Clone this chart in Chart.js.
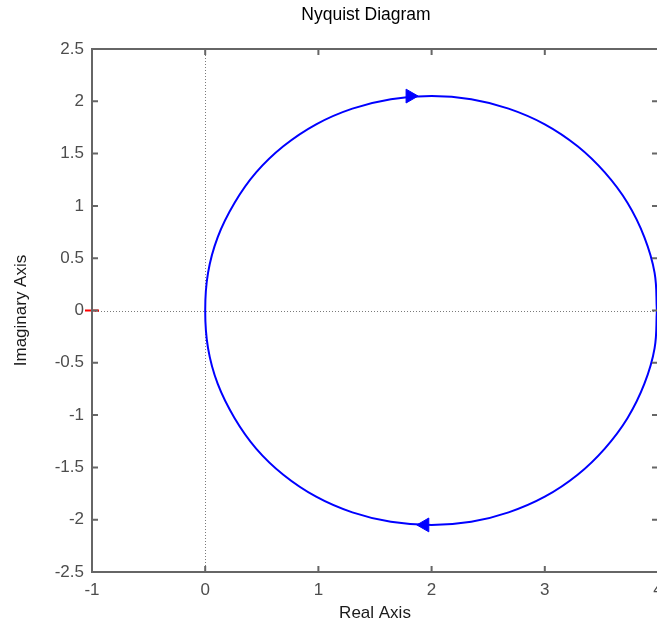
<!DOCTYPE html>
<html>
<head>
<meta charset="utf-8">
<title>Nyquist Diagram</title>
<script src="https://cdn.jsdelivr.net/npm/chart.js@4"></script>
<style>
  html, body { margin: 0; padding: 0; background: #fff; overflow: hidden; }
  #wrap { position: absolute; left: 0; top: 0; width: 732px; height: 630px; }
</style>
</head>
<body>
<div id="wrap"><canvas id="nyquist" width="732" height="630"></canvas></div>
<script>
// Nyquist curve: bottom branch right->left, then top branch left->right
const realPart = [
  3.99, 3.97, 3.88, 3.73, 3.53, 3.29, 3.00, 2.68, 2.35, 2.00,
  1.64, 1.30, 0.98, 0.69, 0.45, 0.26, 0.11, 0.025, 0.00,
  0.025, 0.11, 0.26, 0.45, 0.69, 0.98, 1.30, 1.64, 2.00,
  2.35, 2.68, 3.00, 3.29, 3.53, 3.73, 3.88, 3.97, 3.99
];
const imagPart = [
  0.00, -0.36, -0.70, -1.03, -1.32, -1.57, -1.78, -1.93, -2.02, -2.05,
  -2.02, -1.93, -1.78, -1.57, -1.32, -1.03, -0.70, -0.36, 0.00,
  0.36, 0.70, 1.03, 1.32, 1.57, 1.78, 1.93, 2.02, 2.05,
  2.02, 1.93, 1.78, 1.57, 1.32, 1.03, 0.70, 0.36, 0.00
];

// direction arrows
const arrowX = [1.81, 1.94];
const arrowY = [2.05, -2.05];
const arrowRot = [90, -90];

// critical point -1
const critX = [-1];
const critY = [0];

const xTicks = [-1, 0, 1, 2, 3, 4];
const yTicks = [-2.5, -2, -1.5, -1, -0.5, 0, 0.5, 1, 1.5, 2, 2.5];

const FONT = "'Liberation Sans', Arial, Helvetica, sans-serif";
const AXIS_GREY = '#666666';

const curve = realPart.map((x, i) => ({ x: x, y: imagPart[i] }));
const arrows = arrowX.map((x, i) => ({ x: x, y: arrowY[i] }));
const crit = critX.map((x, i) => ({ x: x, y: critY[i] }));

// dotted zero lines under the data, box + inward ticks over it
const framePlugin = {
  id: 'frame',
  beforeDatasetsDraw(chart) {
    const { ctx, chartArea: { left, right, top, bottom }, scales: { x, y } } = chart;
    const x0 = Math.round(x.getPixelForValue(0)) + 0.5;
    const y0 = Math.round(y.getPixelForValue(0)) + 0.5;
    ctx.save();
    ctx.strokeStyle = '#7a7a7a';
    ctx.lineWidth = 1;
    ctx.setLineDash([1, 2]);
    ctx.beginPath();
    ctx.moveTo(x0, top);
    ctx.lineTo(x0, bottom);
    ctx.moveTo(left, y0);
    ctx.lineTo(right, y0);
    ctx.stroke();
    ctx.restore();
  },
  afterDatasetsDraw(chart) {
    const { ctx, chartArea: { left, right, top, bottom }, scales: { x, y } } = chart;
    const tl = 6;
    ctx.save();
    ctx.strokeStyle = AXIS_GREY;
    ctx.lineWidth = 2;
    ctx.beginPath();
    xTicks.forEach(v => {
      const px = x.getPixelForValue(v);
      ctx.moveTo(px, bottom);
      ctx.lineTo(px, bottom - tl);
      ctx.moveTo(px, top);
      ctx.lineTo(px, top + tl);
    });
    yTicks.forEach(v => {
      const py = y.getPixelForValue(v);
      ctx.moveTo(left, py);
      ctx.lineTo(left + tl, py);
      ctx.moveTo(right, py);
      ctx.lineTo(right - tl, py);
    });
    ctx.stroke();
    ctx.strokeRect(left, top, right - left, bottom - top);
    ctx.restore();
  }
};

const ctx = document.getElementById('nyquist').getContext('2d');

new Chart(ctx, {
  type: 'scatter',
  data: {
    datasets: [
      {
        data: curve,
        showLine: true,
        borderColor: '#0000ff',
        borderWidth: 2,
        pointRadius: 0,
        tension: 0.4,
        fill: false
      },
      {
        data: arrows,
        showLine: false,
        pointStyle: 'triangle',
        pointRotation: arrowRot,
        pointRadius: 8,
        backgroundColor: '#0000ff',
        borderColor: '#0000ff',
        borderWidth: 1
      },
      {
        data: crit,
        showLine: false,
        pointStyle: 'line',
        pointRadius: 7,
        borderColor: '#ff0000',
        borderWidth: 2,
        clip: false
      }
    ]
  },
  options: {
    responsive: false,
    animation: false,
    layout: { padding: 0 },
    plugins: {
      legend: { display: false },
      tooltip: { enabled: false },
      title: {
        display: true,
        text: 'Nyquist Diagram',
        color: '#000',
        font: { family: FONT, size: 17.5, weight: 'normal' },
        padding: { top: 5, bottom: 23 }
      }
    },
    scales: {
      x: {
        type: 'linear',
        min: -1,
        max: 4,
        grid: { display: false, drawTicks: false },
        border: { display: false },
        ticks: {
          color: '#4d4d4d',
          font: { family: FONT, size: 17 },
          padding: 8,
          autoSkip: false,
          maxRotation: 0,
          callback: v => String(v)
        },
        title: {
          display: true,
          text: 'Real Axis',
          color: '#1a1a1a',
          font: { family: FONT, size: 17 },
          padding: { top: 0, bottom: 6 }
        },
        afterBuildTicks: scale => { scale.ticks = xTicks.map(v => ({ value: v })); },
        afterFit: scale => {
          scale.height = 58;
          scale.paddingLeft = 0;
          scale.paddingRight = 0;
        }
      },
      y: {
        type: 'linear',
        min: -2.5,
        max: 2.5,
        grid: { display: false, drawTicks: false },
        border: { display: false },
        ticks: {
          color: '#4d4d4d',
          font: { family: FONT, size: 17 },
          padding: 8,
          autoSkip: false,
          callback: v => String(v)
        },
        title: {
          display: true,
          text: 'Imaginary Axis',
          color: '#1a1a1a',
          font: { family: FONT, size: 17 },
          padding: { top: 11, bottom: 0 }
        },
        afterBuildTicks: scale => { scale.ticks = yTicks.map(v => ({ value: v })); },
        afterFit: scale => {
          scale.width = 92;
          scale.paddingTop = 0;
          scale.paddingBottom = 0;
        }
      },
      // empty box on the right: the plot runs past the window edge like the original
      yPad: {
        type: 'linear',
        position: 'right',
        grid: { display: false, drawTicks: false },
        border: { display: false },
        ticks: { display: false },
        afterFit: scale => {
          scale.width = 74;
          scale.paddingTop = 0;
          scale.paddingBottom = 0;
        }
      }
    }
  },
  plugins: [framePlugin]
});
</script>
</body>
</html>
